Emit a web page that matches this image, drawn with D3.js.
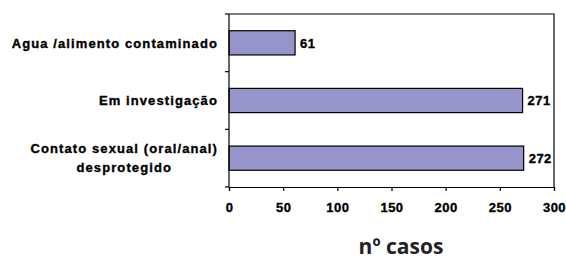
<!DOCTYPE html>
<html>
<head>
<meta charset="utf-8">
<script src="https://cdn.jsdelivr.net/npm/d3@7"></script>
<style>
  body { margin: 0; background: #fff; }
  text { font-family: "Liberation Sans", Arial, sans-serif; font-weight: 700; fill: #000; }
  .heavy { stroke: #000; stroke-width: 0.35px; }
</style>
</head>
<body>
<div id="chart"></div>
<script>
// data
const categories = [
  ['Agua /alimento contaminado'],
  ['Em investigação'],
  ['Contato sexual (oral/anal)', 'desprotegido']
];
const values = [61, 271, 272];
const xTicks = [0, 50, 100, 150, 200, 250, 300];
const axisTitle = 'nº casos';

const width = 566, height = 260;
const plotLeft = 229, plotRight = 554, plotTop = 14, plotBottom = 187;

const svg = d3.select('#chart').append('svg')
  .attr('width', width)
  .attr('height', height);

const x = d3.scaleLinear().domain([0, 300]).range([plotLeft, plotRight]);
const y = d3.scaleBand()
  .domain(d3.range(categories.length))
  .range([plotTop, plotBottom])
  .paddingInner(0.58)
  .paddingOuter(0.29);

// frame (top + right)
svg.append('path')
  .attr('d', `M${plotLeft},${plotTop}H${plotRight}V${plotBottom}`)
  .attr('fill', 'none')
  .attr('stroke', '#000')
  .attr('stroke-width', 1.2);

// bars
svg.selectAll('rect.bar').data(values).join('rect')
  .attr('class', 'bar')
  .attr('x', x(0))
  .attr('y', (d, i) => y(i))
  .attr('width', d => x(d) - x(0))
  .attr('height', y.bandwidth())
  .attr('fill', '#9595c9')
  .attr('stroke', '#000')
  .attr('stroke-width', 1.2);

// value labels
svg.selectAll('text.val').data(values).join('text')
  .attr('class', 'val heavy')
  .attr('x', d => x(d) + 5)
  .attr('y', (d, i) => y(i) + y.bandwidth() / 2)
  .attr('dy', '0.36em')
  .style('font-size', '13px')
  .style('letter-spacing', '0.5px')
  .text(d => d);

// x axis
const xAxis = svg.append('g')
  .attr('transform', `translate(0,${plotBottom})`)
  .call(d3.axisBottom(x).tickValues(xTicks).tickSize(4).tickPadding(12));
xAxis.select('.domain').attr('stroke', '#000').attr('stroke-width', 1.2);
xAxis.selectAll('.tick line').attr('stroke', '#000').attr('stroke-width', 1.2);
xAxis.selectAll('.tick text')
  .attr('class', 'heavy')
  .attr('font-family', null)
  .attr('font-size', null)
  .style('font-size', '13px')
  .style('letter-spacing', '0.5px');

// y axis line with ticks at band boundaries
const half = y.step() * y.paddingInner() / 2;
const bounds = categories.map((c, i) => y(i) - half).concat([plotBottom]);
svg.append('line')
  .attr('x1', plotLeft).attr('x2', plotLeft)
  .attr('y1', plotTop).attr('y2', plotBottom)
  .attr('stroke', '#000').attr('stroke-width', 1.2);
svg.selectAll('line.ytick').data(bounds).join('line')
  .attr('class', 'ytick')
  .attr('x1', plotLeft - 4).attr('x2', plotLeft)
  .attr('y1', d => d).attr('y2', d => d)
  .attr('stroke', '#000').attr('stroke-width', 1.2);

// category labels (multi-line ones centred on their widest line)
const labelRight = 218, lineH = 19;
categories.forEach((lines, i) => {
  const cy = y(i) + y.bandwidth() / 2;
  const t = svg.append('text')
    .attr('class', 'heavy')
    .style('font-size', '13px')
    .style('letter-spacing', '1.1px')
    .attr('text-anchor', 'middle');
  const spans = lines.map((ln, j) => t.append('tspan')
    .attr('x', 0)
    .attr('y', cy + (j - (lines.length - 1) / 2) * lineH)
    .attr('dy', '0.36em')
    .text(ln));
  const w = d3.max(spans, s => s.node().getComputedTextLength());
  t.selectAll('tspan').attr('x', labelRight - w / 2);
});

// axis title
svg.append('text')
  .attr('x', 401)
  .attr('y', 254)
  .attr('text-anchor', 'middle')
  .style('font-family', '"Open Sans", "Noto Sans", sans-serif')
  .style('font-size', '21px')
  .style('font-weight', '700')
  .style('fill', '#222')
  .text(axisTitle);
</script>
</body>
</html>
